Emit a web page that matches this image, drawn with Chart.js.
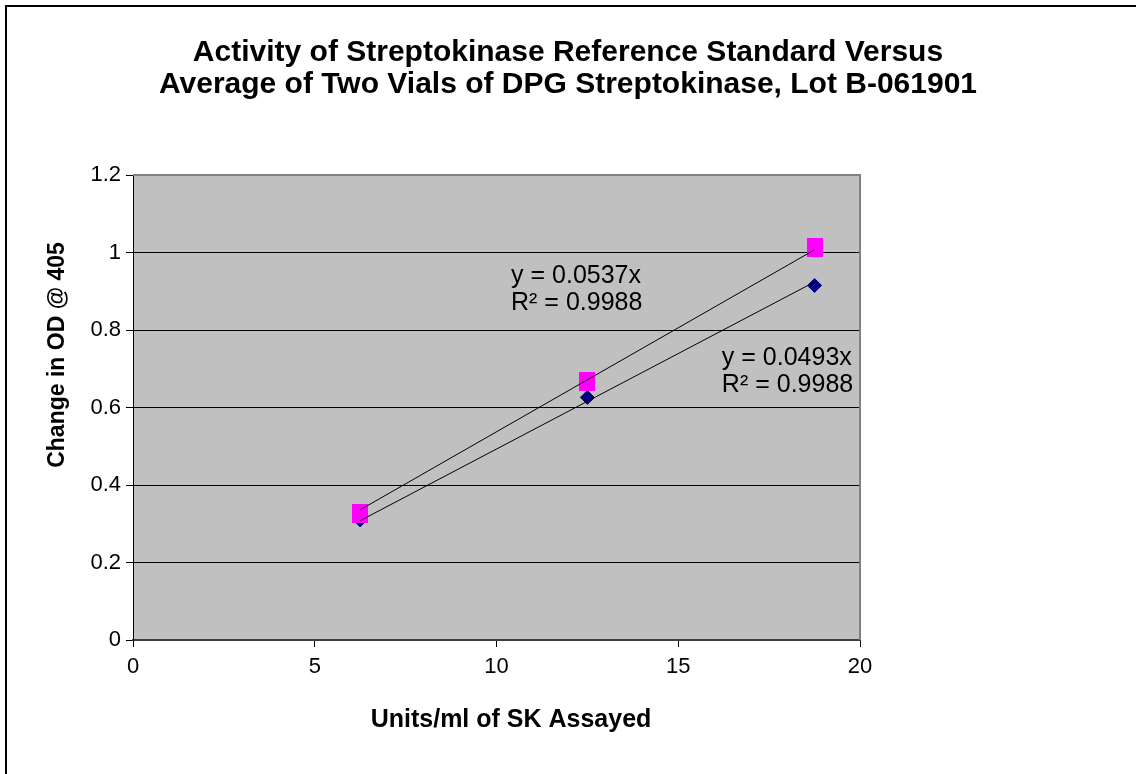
<!DOCTYPE html>
<html>
<head>
<meta charset="utf-8">
<title>Activity of Streptokinase Reference Standard</title>
<script src="https://cdn.jsdelivr.net/npm/chart.js@4.4.1/dist/chart.umd.min.js"></script>
<style>
    html, body { margin: 0; padding: 0; background: #fff; }
    #wrap { width: 1136px; height: 774px; position: relative; }
</style>
</head>
<body>
<div id="wrap"><canvas id="skChart"></canvas></div>
<script>
// Data
const titleLines = ['Activity of Streptokinase Reference Standard Versus', 'Average of Two Vials of DPG Streptokinase, Lot B-061901'];
const xTitle = 'Units/ml of SK Assayed';
const yTitle = 'Change in OD @ 405';
const units = [6.25, 12.5, 18.75];
const diamondValues = [0.31, 0.626, 0.915];
const squareValues = [0.327, 0.668, 1.013];
const trendX = [6.25, 18.75];
const trendSquare = [0.336, 1.007];  // y = 0.0537x
const trendDiamond = [0.308, 0.924]; // y = 0.0493x
const labelSquare = ['y = 0.0537x', 'R\u00b2 = 0.9988'];
const labelDiamond = ['y = 0.0493x', 'R\u00b2 = 0.9988'];

const FONT = "'Liberation Sans', Arial, sans-serif";

const toPoints = (xs, ys) => xs.map((x, i) => ({ x: x, y: ys[i] }));

// magenta marker is a slightly tall rectangle
const squareMarker = document.createElement('canvas');
squareMarker.width = 16;
squareMarker.height = 19;
const sm = squareMarker.getContext('2d');
sm.fillStyle = '#FF00FF';
sm.fillRect(0, 0, 16, 19);

// grey plot background, frame, outer border, titles
const plotDecor = {
    id: 'plotDecor',
    beforeDraw(chart) {
        const { ctx, chartArea: a } = chart;
        ctx.save();
        ctx.fillStyle = '#C0C0C0';
        ctx.fillRect(a.left, a.top, a.right - a.left, a.bottom - a.top);
        ctx.restore();
    },
    afterDraw(chart) {
        const { ctx, chartArea: a } = chart;
        ctx.save();
        ctx.strokeStyle = '#808080';
        ctx.lineWidth = 2;
        ctx.beginPath();
        ctx.moveTo(a.left, a.top);
        ctx.lineTo(a.right, a.top);
        ctx.lineTo(a.right, a.bottom);
        ctx.stroke();
        ctx.strokeStyle = '#000';
        ctx.beginPath();
        ctx.moveTo(6, chart.height);
        ctx.lineTo(6, 6);
        ctx.lineTo(chart.width, 6);
        ctx.stroke();

        ctx.fillStyle = '#000';
        ctx.textAlign = 'center';
        ctx.textBaseline = 'middle';
        ctx.font = 'bold 30px ' + FONT;
        titleLines.forEach((t, i) => ctx.fillText(t, chart.width / 2, 53 + i * 32));

        // axis titles sit a little off the plot centre, as in the original
        ctx.font = 'bold 25px ' + FONT;
        ctx.fillText(xTitle, 511, 720);
        ctx.translate(58, 355);
        ctx.rotate(-Math.PI / 2);
        ctx.font = 'bold 23px ' + FONT;
        ctx.fillText(yTitle, 0, 0);
        ctx.restore();
    }
};

// trendline equations placed in data coordinates
const equationLabels = {
    id: 'equationLabels',
    afterDatasetsDraw(chart) {
        const { ctx, scales } = chart;
        const put = (lines, x, y) => {
            const px = scales.x.getPixelForValue(x);
            const py = scales.y.getPixelForValue(y);
            ctx.save();
            ctx.font = '25px ' + FONT;
            ctx.fillStyle = '#000';
            ctx.textAlign = 'left';
            ctx.textBaseline = 'middle';
            lines.forEach((t, i) => ctx.fillText(t, px, py + i * 27));
            ctx.restore();
        };
        put(labelSquare, 10.4, 0.938);
        put(labelDiamond, 16.2, 0.727);
    }
};

const ctx = document.getElementById('skChart').getContext('2d');
new Chart(ctx, {
    type: 'scatter',
    data: {
        datasets: [
            {
                label: 'trend square',
                data: toPoints(trendX, trendSquare),
                showLine: true,
                borderColor: '#000',
                borderWidth: 1,
                pointRadius: 0
            },
            {
                label: 'trend diamond',
                data: toPoints(trendX, trendDiamond),
                showLine: true,
                borderColor: '#000',
                borderWidth: 1,
                pointRadius: 0
            },
            {
                label: 'square',
                data: toPoints(units, squareValues),
                pointStyle: squareMarker,
                pointRadius: 9
            },
            {
                label: 'diamond',
                data: toPoints(units, diamondValues),
                pointStyle: 'rectRot',
                pointRadius: 7,
                backgroundColor: '#000080',
                borderColor: '#000080',
                borderWidth: 1
            }
        ]
    },
    options: {
        responsive: true,
        maintainAspectRatio: false,
        animation: false,
        layout: { padding: { left: 43, right: 276, top: 175, bottom: 40 } },
        plugins: {
            legend: { display: false },
            tooltip: { enabled: false },
            title: { display: false }
        },
        scales: {
            x: {
                type: 'linear',
                min: 0,
                max: 20,
                ticks: { stepSize: 5, color: '#000', font: { family: FONT, size: 22 }, padding: 7, maxRotation: 0 },
                grid: { drawOnChartArea: false, drawTicks: true, tickLength: 7, tickColor: '#000' },
                border: { color: '#404040', width: 2 },
                afterFit(scale) { scale.height = 94; }
            },
            y: {
                min: 0,
                max: 1.2,
                ticks: { stepSize: 0.2, color: '#000', font: { family: FONT, size: 22 }, padding: 5,
                    callback: v => String(+v.toFixed(1)) },
                grid: { color: '#000', lineWidth: 1, drawTicks: true, tickLength: 7, tickColor: '#000' },
                border: { color: '#000', width: 1 },
                afterFit(scale) { scale.width = 90; }
            }
        }
    },
    plugins: [plotDecor, equationLabels]
});
</script>
</body>
</html>
